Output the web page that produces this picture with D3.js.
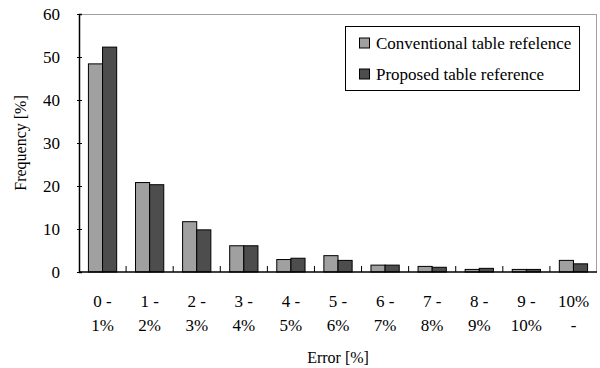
<!DOCTYPE html>
<html><head><meta charset="utf-8">
<script src="https://cdn.jsdelivr.net/npm/d3@7"></script>
<style>body{margin:0;background:#fff}svg{display:block}text{font-family:"Liberation Serif","Times New Roman",serif;fill:#000}</style>
</head><body><svg id="c" width="600" height="368"></svg>
<script>
const categories = ["0 -|1%","1 -|2%","2 -|3%","3 -|4%","4 -|5%","5 -|6%","6 -|7%","7 -|8%","8 -|9%","9 -|10%","10%|-"];
const seriesNames = ["Conventional table refelence","Proposed table reference"];
const conventional = [48.4,20.8,11.7,6.1,2.9,3.8,1.6,1.3,0.6,0.6,2.7];
const proposed = [52.3,20.3,9.8,6.1,3.2,2.7,1.6,1.1,0.85,0.6,1.9];
const yTicks = [0,10,20,30,40,50,60];
const colors = ["#a0a0a0","#4d4d4d"];
const FONT = "Liberation Serif";

const svg = d3.select("#c");
const L=79, R=597, T=14, B=272;
const x = d3.scaleBand().domain(categories).range([L,R]).paddingInner(0).paddingOuter(0);
const xs = d3.scaleBand().domain([0,1]).range([x.bandwidth()*0.2, x.bandwidth()*0.8]);
const y = d3.scaleLinear().domain([0,60]).range([B,T]);

// plot border (gray top/right)
svg.append("line").attr("x1",L).attr("x2",R).attr("y1",T+0.5).attr("y2",T+0.5).attr("stroke","#a0a0a0").attr("stroke-width",1);
svg.append("line").attr("x1",R-0.5).attr("x2",R-0.5).attr("y1",T).attr("y2",B).attr("stroke","#a0a0a0").attr("stroke-width",1);

// bars
const data = [conventional, proposed];
data.forEach((vals, si) => {
  svg.append("g").selectAll("rect").data(vals).join("rect")
    .attr("x",(d,i)=>x(categories[i])+xs(si))
    .attr("y",d=>y(d))
    .attr("width",xs.bandwidth())
    .attr("height",d=>B-y(d))
    .attr("fill",colors[si]).attr("stroke","#000").attr("stroke-width",1);
});

// y axis
const ya = svg.append("g").attr("transform",`translate(${L},0)`)
  .call(d3.axisLeft(y).tickValues(yTicks).tickSize(-3).tickPadding(19))
  .attr("font-family",FONT).attr("font-size",17);
ya.select(".domain").attr("stroke","#000").attr("stroke-width",1.5);
ya.selectAll(".tick line").attr("x1",-2).attr("x2",3).attr("stroke","#000");
ya.selectAll(".tick text").attr("dy","0.35em");

// x axis
const xa = svg.append("g").attr("transform",`translate(0,${B})`);
xa.append("line").attr("x1",L).attr("x2",R).attr("stroke","#000").attr("stroke-width",1.5);
xa.selectAll(".xt").data(categories.slice(1)).join("line")
  .attr("x1",d=>x(d)).attr("x2",d=>x(d)).attr("y1",0).attr("y2",-6).attr("stroke","#000");
const lab = xa.selectAll(".xl").data(categories).join("text")
  .attr("text-anchor","middle").attr("font-size",17).attr("font-family",FONT)
  .attr("transform",d=>`translate(${x(d)+x.bandwidth()/2},0)`);
lab.append("tspan").attr("x",0).attr("y",35).text(d=>d.split("|")[0]);
lab.append("tspan").attr("x",0).attr("y",59).text(d=>d.split("|")[1]);

// axis titles
svg.append("text").attr("x",(L+R)/2).attr("y",363).attr("text-anchor","middle").attr("font-size",16).attr("font-family",FONT).text("Error [%]");
svg.append("text").attr("transform",`translate(26,${(T+B)/2}) rotate(-90)`).attr("text-anchor","middle").attr("font-size",16).attr("font-family",FONT).text("Frequency [%]");

// legend
const lg = svg.append("g");
lg.append("rect").attr("x",345.5).attr("y",26.5).attr("width",234).attr("height",64).attr("fill","#fff").attr("stroke","#000");
seriesNames.forEach((n,i)=>{
  const cy = 43 + i*31;
  lg.append("rect").attr("x",359.5).attr("y",cy-5).attr("width",10).attr("height",10).attr("fill",colors[i]).attr("stroke","#000");
  lg.append("text").attr("x",376).attr("y",cy+5.5).attr("font-size",17).attr("font-family",FONT).text(n);
});
</script></body></html>
